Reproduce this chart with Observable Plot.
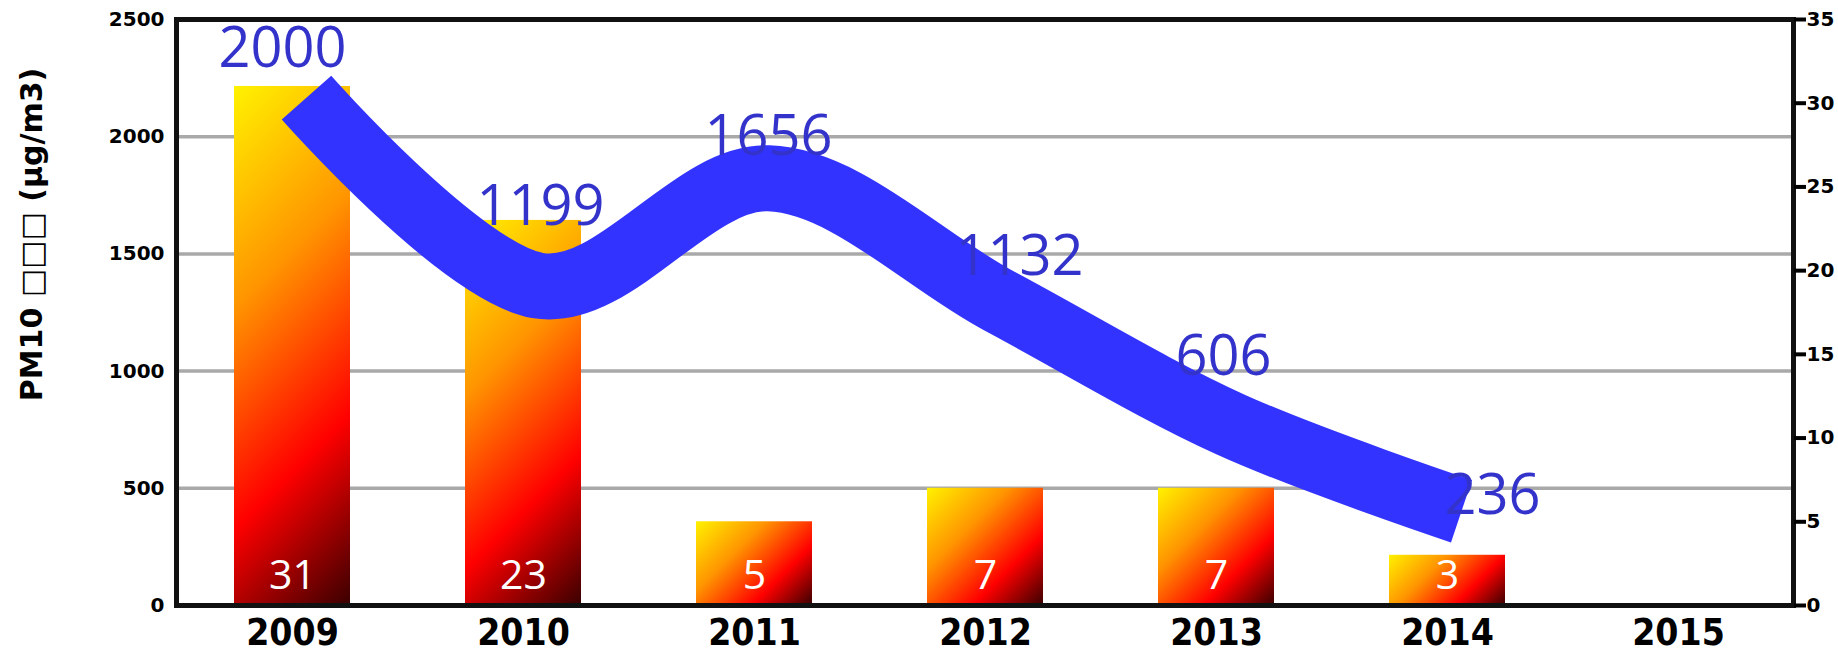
<!DOCTYPE html>
<html>
<head>
<meta charset="utf-8">
<script src="https://cdn.jsdelivr.net/npm/d3@7"></script>
<script src="https://cdn.jsdelivr.net/npm/@observablehq/plot@0.6"></script>
<style>
  html, body { margin: 0; padding: 0; background: #fff; }
  #chart svg { display: block; background: #fff; }
</style>
</head>
<body>
<div id="chart"></div>
<script>
// ---- data ----
const years = ["2009", "2010", "2011", "2012", "2013", "2014", "2015"];
const dataYears = ["2009", "2010", "2011", "2012", "2013", "2014"];
const pm10 = [2000, 1199, 1656, 1132, 606, 236];     // left axis (line)
const counts = [31, 23, 5, 7, 7, 3];                 // right axis (bars)
const leftTicks = [0, 500, 1000, 1500, 2000, 2500];
const rightTicks = [0, 5, 10, 15, 20, 25, 30, 35];
const gridTicks = [500, 1000, 1500, 2000];
const yTitle = "PM10 \u25A1\u25A1\u25A1 (\u03BCg/m3)";

// ---- tables built from the arrays ----
const leftMax = 2500, rightMax = 35;
const k = leftMax / rightMax;
const barData = dataYears.map((year, i) => ({year, count: counts[i]}));
const lineData = dataYears.map((year, i) => ({year, pm: pm10[i]}));

// label nudges (pixel offsets for the line value labels)
const nudges = [[-10, -88], [17, -117], [14, -80], [34, -83], [7, -106], [45, -54]];

const axisFont = "DejaVu Sans";
const labelMarks = lineData.map((d, i) => Plot.text([d], {
  x: "year", y: "pm", text: r => String(r.pm),
  dx: nudges[i][0], dy: nudges[i][1],
  fill: "#3333CC", fontSize: 56, fontFamily: "Open Sans, Noto Sans, sans-serif"
}));

const svg = Plot.plot({
  width: 1838,
  height: 657,
  marginLeft: 176,
  marginRight: 45,
  marginTop: 19,
  marginBottom: 52,
  x: {type: "band", domain: years, paddingInner: 0.5, paddingOuter: 0.25},
  y: {domain: [0, leftMax]},
  marks: [
    Plot.ruleY(gridTicks, {stroke: "#a9a9a9", strokeWidth: 3.5}),
    Plot.barY(barData, {x: "year", y: d => d.count * k, fill: "#ff0000"}),
    Plot.text(barData, {x: "year", y: d => 0, text: d => String(d.count), dy: -30,
      fill: "white", fontSize: 41, fontFamily: "Open Sans, Noto Sans, sans-serif"}),
    Plot.line(lineData, {x: "year", y: "pm", dx: 14, dy: -39, stroke: "#3333FF",
      strokeWidth: 66, curve: "cardinal", strokeLinecap: "butt", strokeLinejoin: "round"}),
    ...labelMarks,
    Plot.frame({stroke: "#111", strokeWidth: 5}),
    Plot.axisY({anchor: "left", ticks: leftTicks, tickFormat: v => String(v), tickSize: 0, tickPadding: 12, label: null,
      fontSize: 20, fontWeight: "bold", fontFamily: axisFont, fill: "#000"}),
    Plot.axisY({anchor: "right", ticks: rightTicks.map(v => v * k), tickFormat: v => String(Math.round(v / k)),
      tickSize: 12, tickPadding: 1, strokeWidth: 4, stroke: "#000", label: null,
      fontSize: 20, fontWeight: "bold", fontFamily: axisFont, fill: "#000"}),
    Plot.axisX({tickSize: 0, tickPadding: 13, label: null, fontSize: 37, fontWeight: "bold",
      fontFamily: "DejaVu Sans Condensed, DejaVu Sans", fill: "#000"}),
    Plot.text([yTitle], {frameAnchor: "left", textAnchor: "middle", lineAnchor: "middle", rotate: -90, dx: -144, dy: -78,
      fontSize: 30, fontWeight: "bold", fontFamily: axisFont, fill: "#000"})
  ]
});

// diagonal (45 degree) yellow -> red -> dark gradient per bar
const stops = [[0, "#FFF200"], [0.35, "#FF9500"], [0.7, "#FF0000"], [1, "#3A0000"]];
const root = d3.select(svg);
const defs = root.insert("defs", ":first-child");
root.selectAll('g[aria-label="bar"] rect').each(function(d, i) {
  const r = d3.select(this);
  const x = +r.attr("x"), y = +r.attr("y"), w = +r.attr("width"), h = +r.attr("height");
  const id = "barGrad" + i;
  const g = defs.append("linearGradient").attr("id", id).attr("gradientUnits", "userSpaceOnUse")
    .attr("x1", x).attr("y1", y).attr("x2", x + (w + h) / 2).attr("y2", y + (w + h) / 2);
  stops.forEach(([o, c]) => g.append("stop").attr("offset", o).attr("stop-color", c));
  r.attr("fill", `url(#${id})`);
});

document.getElementById("chart").appendChild(svg);
</script>
</body>
</html>
